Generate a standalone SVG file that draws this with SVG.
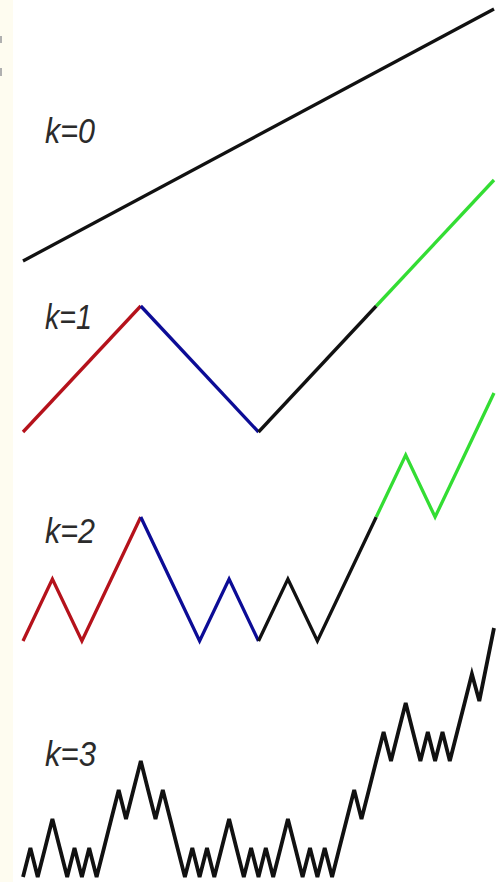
<svg xmlns="http://www.w3.org/2000/svg" width="496" height="882" viewBox="0 0 496 882">
  <style>
    .lbl { font-family: "Liberation Sans", Arial, sans-serif; font-style: italic; font-size: 35px; fill: #2b2b2b; }
    .ln { fill: none; stroke-width: 3.3; stroke-linejoin: miter; stroke-linecap: butt; }
    .thick { stroke-width: 3.8; }
    .blk { stroke: #111111; }
    .red { stroke: #b5121b; }
    .blu { stroke: #0c0c96; }
    .grn { stroke: #33dd33; }
  </style>
  <rect x="0" y="0" width="496" height="882" fill="#ffffff"/>
  <rect x="0" y="0" width="13" height="882" fill="#fefcf0"/>
  <rect x="0" y="36" width="2" height="7" fill="#b0b0b0"/>
  <rect x="0" y="68" width="2" height="8" fill="#b0b0b0"/>

  <g id="labels">
    <text class="lbl" x="45" y="143" textLength="50" lengthAdjust="spacingAndGlyphs">k=0</text>
    <text class="lbl" x="45" y="329" textLength="47" lengthAdjust="spacingAndGlyphs">k=1</text>
    <text class="lbl" x="45" y="543" textLength="50" lengthAdjust="spacingAndGlyphs">k=2</text>
    <text class="lbl" x="45" y="766" textLength="51" lengthAdjust="spacingAndGlyphs">k=3</text>
  </g>

  <g id="curves">
    <g id="k0">
      <polyline class="ln blk" points="23,261 494,9"/>
    </g>
    <g id="k1">
      <polyline class="ln red" points="23,432 140.75,306"/>
      <polyline class="ln blu" points="140.75,306 258.5,432"/>
      <polyline class="ln blk" points="258.5,432 376.25,306"/>
      <polyline class="ln grn" points="376.25,306 494,180"/>
    </g>
    <g id="k2">
      <polyline class="ln red" points="23,641 52.4,579 81.9,641 111.3,579 140.75,517"/>
      <polyline class="ln blu" points="140.75,517 170.2,579 199.6,641 229.1,579 258.5,641"/>
      <polyline class="ln blk" points="258.5,641 287.9,579 317.4,641 346.8,579 376.25,517"/>
      <polyline class="ln grn" points="376.25,517 405.7,455 435.1,517 464.6,455 494,393"/>
    </g>
    <g id="k3">
      <polyline class="ln thick blk" points="23,877 30.4,848 37.7,877 45.1,848 52.4,819 59.8,848 67.2,877 74.5,848 81.9,877 89.2,848 96.6,877 104,848 111.3,819 118.7,790 126,819 133.4,790 140.8,761 148.1,790 155.5,819 162.8,790 170.2,819 177.5,848 184.9,877 192.3,848 199.6,877 207,848 214.3,877 221.7,848 229.1,819 236.4,848 243.8,877 251.1,848 258.5,877 265.8,848 273.2,877 280.6,848 287.9,819 295.3,848 302.6,877 310,848 317.4,877 324.7,848 332.1,877 339.4,848 346.8,819 354.2,790 361.5,819 368.9,790 376.2,761 383.6,732 391,761 398.3,732 405.7,703 413,732 420.4,761 427.8,732 435.1,761 442.5,732 449.8,761 457.2,732 464.6,703 471.9,674 479.3,701 494,628"/>
    </g>
  </g>
</svg>
